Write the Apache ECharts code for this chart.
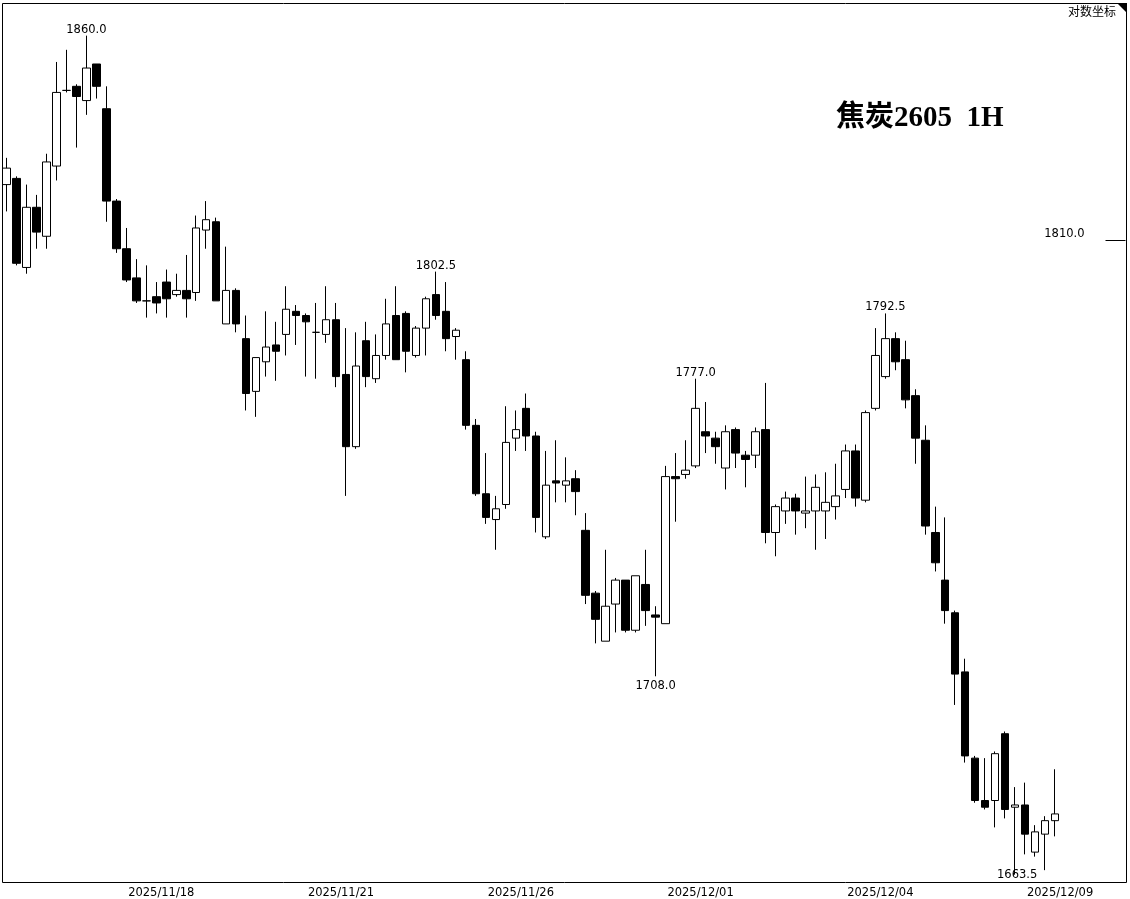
<!DOCTYPE html>
<html><head><meta charset="utf-8">
<script src="https://cdn.jsdelivr.net/npm/echarts@6/dist/echarts.min.js"></script>
<style>html,body{margin:0;padding:0;background:#fff}#c{width:1130px;height:899px}</style>
</head><body><div id="c"></div>
<script>
// 焦炭2605 1H candles (open, close, low, high)
const opens = [1823.5,1825,1803.5,1818,1811,1828,1846.5,1847.5,1844,1853,1842,1819.5,1808,1801,1795.5,1796.5,1800,1797,1798,1797.5,
1812.5,1814.5,1790,1798,1786.5,1774,1781,1785,1787.5,1793,1792,1788,1787.5,1791,1778,1761,1786,1777,1782.5,1792,
1792.5,1782.5,1789,1797,1793,1787,1781.5,1766,1750,1744,1747.5,1763,1770,1763.5,1740,1753,1752,1753.5,1741.5,1727,
1716,1724.5,1730,1718.5,1729,1722,1720,1754,1754.5,1756.5,1764.5,1763,1756,1765,1759,1759,1765,1741,1746,1749,
1745.5,1746,1746,1747,1751,1760,1748.5,1770,1777.5,1786.5,1781.5,1773,1762.5,1741,1730,1722.5,1709,1689.5,1680,1680,
1695,1678.5,1679,1668.5,1672.5,1675.5];
const closes = [1827.5,1804.5,1818,1812,1829,1846,1846.5,1845,1852,1847.5,1819.5,1808,1800.5,1795.5,1795.5,1795,1796,1798,1796,1813,
1815,1795.5,1798,1790,1773.5,1782,1784.5,1783.5,1793.5,1792,1790.5,1788,1791,1777.5,1761,1780,1777.5,1782.5,1790,1781.5,
1783.5,1789,1796,1792,1786.5,1788.5,1766,1750,1744.5,1746.5,1762,1765,1763.5,1744.5,1752,1752.5,1753,1750.5,1726.5,1721,
1724,1730,1718.5,1731,1723,1721.5,1754,1753.5,1755.5,1770,1763.5,1761,1764.5,1759.5,1758,1764.5,1741,1747,1749,1746,
1746,1751.5,1748,1749.5,1760,1749,1769,1782.5,1786.5,1781,1772,1763,1742.5,1734,1723,1708.5,1690,1680,1678.5,1690.5,
1678,1679,1672.5,1673,1675.5,1677];
const lows = [1817,1804,1802,1808,1808,1824.5,1846,1832.5,1840.5,1844.5,1814.5,1807,1800,1795,1791.5,1792.5,1791.5,1796.5,1791.5,1795.5,
1808,1795.5,1790,1788,1769.5,1768,1777.5,1776.5,1782.5,1785,1777.5,1777,1785.5,1775,1749.5,1760.5,1775,1776,1781.5,1781.5,
1778.5,1782,1782.5,1791,1783.5,1781.5,1765,1749.5,1743,1737,1746.5,1760,1760,1741,1739.5,1748,1748,1745,1724.5,1715.5,
1716,1718,1718,1718,1719.5,1708,1720,1743.5,1753.5,1756,1759.5,1757,1751,1756,1751.5,1756,1738.5,1735.5,1743,1740.5,
1742,1737,1739.5,1744,1749,1747,1748,1769.5,1777,1779,1770,1757,1740.5,1732,1720,1701.5,1688.5,1679.5,1678,1674,
1676,1663.5,1668,1667.5,1664.5,1672];
const highs = [1830,1825.5,1823.5,1821,1831,1853.5,1856.5,1848,1860,1853,1847.5,1820,1813,1805.5,1804,1800,1803,1802,1806.5,1816,
1819.5,1815.5,1808.5,1798.5,1792,1782,1793,1790.5,1799,1794.5,1792.5,1795,1799,1795,1789,1788,1790.5,1787.5,1796,1799,
1793,1789.5,1796.5,1802.5,1800,1789,1783.5,1767.5,1759.5,1749.5,1770.5,1769.5,1773.5,1764.5,1760,1762.5,1758.5,1755.5,1745.5,1727.5,
1737,1730.5,1730,1731,1737,1724,1756.5,1759.5,1762.5,1777,1771.5,1764.5,1766,1765.5,1760,1765.5,1776,1747.5,1750.5,1750,
1754,1754.5,1755,1757,1761.5,1761.5,1769.5,1789,1792.5,1788,1786,1774.5,1766,1747,1744.5,1723,1712,1690,1689.5,1691,
1695.5,1683,1684,1674.5,1676.5,1687];

const tickLabels = ['2025/11/18','2025/11/21','2025/11/26','2025/12/01','2025/12/04','2025/12/09'];
const tickIndex = [16, 34, 52, 70, 88, 106];
const highMarks = [8, 43, 69, 88];
const lowMarks = [65];
const extremeLow = 101;
const markerPrices = [1810];
const slotCount = 113;

const categories = [];
for (let i = 0; i < slotCount; i++) categories.push(String(i));
const candles = opens.map((o, i) => [o, closes[i], lows[i], highs[i]]);

const labelFont = '"DejaVu Sans", sans-serif';
const markData = [];
highMarks.forEach(i => markData.push({coord: [i, highs[i]], value: highs[i], label: {position: 'top', distance: 0}}));
lowMarks.forEach(i => markData.push({coord: [i, lows[i]], value: lows[i], label: {position: 'bottom', distance: 4}}));
markData.push({coord: [extremeLow, lows[extremeLow]], value: lows[extremeLow], label: {position: 'inside', offset: [2, 0]}});

const chart = echarts.init(document.getElementById('c'), null, {renderer: 'canvas'});
chart.setOption({
  animation: false,
  backgroundColor: '#fff',
  grid: {left: 1.5, top: 3, width: 1130, height: 879, containLabel: false},
  xAxis: {
    type: 'category', data: categories, boundaryGap: true,
    axisLine: {show: false}, axisTick: {show: false}, splitLine: {show: false},
    axisLabel: {
      interval: (idx) => tickIndex.indexOf(idx) >= 0,
      formatter: (v) => { const k = tickIndex.indexOf(Number(v)); return k >= 0 ? '{a|' + tickLabels[k] + '}' : ''; },
      margin: 6,
      rich: {a: {padding: [0, 10, 0, 0], fontSize: 11.5, fontFamily: labelFont, color: '#000'}}
    }
  },
  yAxis: {
    type: 'log', logBase: 10, min: 1662.1, max: 1868.1, position: 'right', offset: -4.5,
    axisLine: {show: false}, splitLine: {show: false},
    axisTick: {show: true, inside: true, length: 20, customValues: markerPrices, lineStyle: {color: '#000', width: 1}},
    axisLabel: {show: true, inside: true, margin: 41, customValues: markerPrices, verticalAlign: 'bottom',
      formatter: v => Number(v).toFixed(1), fontSize: 11.5, fontFamily: labelFont, color: '#000'}
  },
  series: [{
    type: 'candlestick', data: candles, barWidth: 8,
    itemStyle: {color: '#fff', color0: '#000', borderColor: '#000', borderColor0: '#000', borderColorDoji: '#000', borderWidth: 1},
    emphasis: {disabled: true},
    markPoint: {
      symbol: 'circle', symbolSize: 0, silent: true,
      label: {show: true, color: '#000', fontSize: 11.5, fontFamily: labelFont, formatter: p => Number(p.value).toFixed(1)},
      data: markData
    }
  }],
  graphic: [
    {type: 'rect', z: 100, silent: true, shape: {x: 2.5, y: 3.5, width: 1124, height: 879}, style: {fill: 'none', stroke: '#000', lineWidth: 1}},
    {type: 'polygon', z: 100, silent: true, shape: {points: [[1117, 3], [1127, 3], [1127, 13]]}, style: {fill: '#000'}},
    {type: 'text', z: 100, left: 1068, top: 5, silent: true, style: {text: '对数坐标', font: '12px "Noto Sans CJK SC"', fill: '#000'}},
    {type: 'text', z: 100, left: 836, top: 104, silent: true, style: {text: '焦炭2605  1H', font: 'bold 29px "Liberation Serif", "Noto Sans CJK SC"', fill: '#000'}}
  ]
});
</script></body></html>
